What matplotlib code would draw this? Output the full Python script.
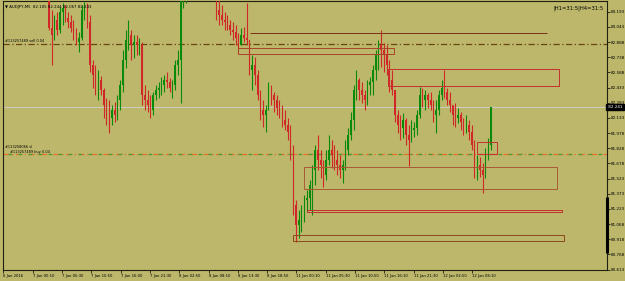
import matplotlib
matplotlib.use('Agg')
import matplotlib.pyplot as plt
from matplotlib.patches import Rectangle

eerste_open = 83.31
hoog = [83.36, 83.21, 83.16, 83.19, 83.24, 83.28, 83.26, 83.19, 83.16, 83.11,
        83.03, 82.99, 83.26, 83.29, 83.28, 83.16, 82.71, 82.66, 82.61, 82.55,
        82.43, 82.33, 82.31, 82.26, 82.29, 82.36, 82.51, 82.81, 83.01, 83.11,
        83.01, 82.96, 82.96, 82.93, 82.89, 82.46, 82.41, 82.36, 82.39, 82.46,
        82.49, 82.54, 82.56, 82.59, 82.53, 82.51, 82.71, 82.81, 83.51, 83.61,
        83.51, 83.61, 83.71, 83.81, 83.86, 83.81, 83.76, 83.71, 83.66, 83.61,
        83.56, 83.46, 83.31, 83.26, 83.19, 83.16, 83.11, 83.09, 83.06, 82.98,
        83.03, 83.04, 83.28, 82.91, 82.76, 82.74, 82.61, 82.41, 82.31, 82.26,
        82.49, 82.46, 82.39, 82.36, 82.31, 82.26, 82.21, 82.13, 82.06, 81.86,
        81.31, 81.21, 81.26, 81.36, 81.41, 81.51, 81.66, 81.86, 81.96, 81.81,
        81.71, 81.81, 81.96, 81.91, 81.86, 81.81, 81.76, 81.71, 81.91, 82.03,
        82.19, 82.46, 82.61, 82.53, 82.49, 82.41, 82.51, 82.54, 82.66, 82.81,
        82.91, 83.01, 82.88, 82.86, 82.71, 82.61, 82.41, 82.21, 82.16, 82.18,
        82.13, 82.06, 82.11, 82.09, 82.21, 82.44, 82.43, 82.41, 82.38, 82.39,
        82.31, 82.31, 82.41, 82.51, 82.61, 82.43, 82.39, 82.26, 82.28, 82.23,
        82.19, 82.13, 82.16, 82.11, 82.06, 81.91, 81.76, 81.74, 81.68, 81.83,
        81.93, 82.24]
laag = [83.01, 82.66, 82.91, 82.96, 82.98, 83.06, 83.09, 83.03, 82.99, 82.91,
        82.86, 82.79, 82.91, 83.11, 83.03, 82.59, 82.43, 82.36, 82.31, 82.36,
        82.13, 82.06, 81.98, 82.06, 82.09, 82.11, 82.21, 82.39, 82.63, 82.81,
        82.71, 82.73, 82.76, 82.76, 82.26, 82.21, 82.19, 82.13, 82.16, 82.31,
        82.33, 82.36, 82.39, 82.43, 82.39, 82.33, 82.41, 82.56, 82.28, 83.23,
        83.28, 83.36, 83.46, 83.56, 83.61, 83.56, 83.51, 83.46, 83.41, 83.36,
        83.33, 83.11, 83.06, 83.06, 83.01, 83.01, 82.96, 82.91, 82.86, 82.78,
        82.86, 82.89, 82.86, 82.56, 82.41, 82.46, 82.31, 82.11, 82.04, 81.99,
        82.21, 82.26, 82.19, 82.16, 82.13, 82.04, 82.01, 81.91, 81.71, 81.16,
        80.89, 80.93, 80.99, 81.09, 81.19, 81.21, 81.16, 81.46, 81.61, 81.53,
        81.44, 81.51, 81.66, 81.63, 81.61, 81.56, 81.53, 81.48, 81.61, 81.76,
        81.91, 82.01, 82.31, 82.31, 82.28, 82.21, 82.26, 82.36, 82.36, 82.51,
        82.61, 82.64, 82.59, 82.56, 82.39, 82.36, 82.09, 81.98, 81.91, 81.93,
        81.86, 81.65, 81.89, 81.94, 81.96, 82.13, 82.24, 82.21, 82.23, 82.21,
        82.09, 81.98, 82.16, 82.31, 82.33, 82.26, 82.19, 82.06, 82.04, 82.08,
        82.01, 81.96, 81.98, 81.91, 81.81, 81.53, 81.51, 81.54, 81.38, 81.53,
        81.71, 81.81]
slot = [83.03, 82.96, 83.11, 83.01, 83.19, 83.23, 83.13, 83.09, 83.03, 82.96,
        82.89, 82.93, 83.21, 83.25, 83.09, 82.66, 82.56, 82.46, 82.51, 82.41,
        82.26, 82.16, 82.13, 82.21, 82.16, 82.31, 82.46, 82.71, 82.91, 82.96,
        82.86, 82.89, 82.86, 82.86, 82.36, 82.31, 82.26, 82.21, 82.36, 82.41,
        82.43, 82.46, 82.51, 82.49, 82.43, 82.46, 82.66, 82.71, 83.36, 83.41,
        83.46, 83.51, 83.66, 83.71, 83.76, 83.66, 83.61, 83.56, 83.51, 83.46,
        83.41, 83.21, 83.16, 83.11, 83.09, 83.06, 83.01, 82.99, 82.93, 82.86,
        82.96, 82.93, 82.91, 82.61, 82.66, 82.56, 82.36, 82.21, 82.16, 82.21,
        82.41, 82.36, 82.31, 82.23, 82.19, 82.11, 82.06, 81.99, 81.81, 81.26,
        81.06, 81.11, 81.19, 81.31, 81.33, 81.46, 81.61, 81.81, 81.71, 81.66,
        81.56, 81.71, 81.81, 81.76, 81.71, 81.66, 81.61, 81.66, 81.81, 81.96,
        82.11, 82.41, 82.51, 82.41, 82.36, 82.31, 82.46, 82.49, 82.61, 82.76,
        82.86, 82.81, 82.76, 82.66, 82.51, 82.41, 82.16, 82.06, 82.03, 82.11,
        81.96, 81.91, 82.01, 82.03, 82.16, 82.36, 82.31, 82.36, 82.31, 82.26,
        82.16, 82.21, 82.36, 82.43, 82.39, 82.31, 82.26, 82.16, 82.13, 82.16,
        82.09, 82.03, 82.06, 81.99, 81.86, 81.66, 81.66, 81.61, 81.56, 81.76,
        81.86, 82.24]

# Tijdas (M5 bars, om de 64 bars een label)
tijd_labels = ['6 Jan 2016', '7 Jan 00:10', '7 Jan 05:30', '7 Jan 10:50', '7 Jan 16:00',
               '7 Jan 21:30', '8 Jan 02:50', '8 Jan 08:10', '8 Jan 13:30', '8 Jan 18:50',
               '11 Jan 00:10', '11 Jan 05:30', '11 Jan 10:50', '11 Jan 16:10',
               '11 Jan 21:30', '12 Jan 02:50', '12 Jan 08:10']
prijs_labels = [83.193, 83.043, 82.888, 82.738, 82.588, 82.433, 82.283, 82.133, 81.978,
                81.828, 81.678, 81.523, 81.373, 81.223, 81.068, 80.918, 80.768, 80.613]

huidige_prijs = 82.241
sell_niveau = 82.87
buy_niveau = 81.77

# Zones: (begin bar, eind bar, laag, hoog, kleur)
zones = [(538, 1187, 82.977, 82.983, '#7a3018'),
         (512, 853, 82.77, 82.83, '#a8442a'),
         (840, 1213, 82.45, 82.62, '#c43030'),
         (1034, 1078, 81.77, 81.89, '#c43030'),
         (656, 1209, 81.42, 81.64, '#a85a35'),
         (663, 1220, 81.19, 81.21, '#c43030'),
         (632, 1224, 80.90, 80.96, '#8b4a20')]

achtergrond = '#BDB76B'
groen = '#0a8a0a'
rood = '#d02828'

fig = plt.figure(figsize=(6.25, 2.81), dpi=100, facecolor=achtergrond)
ax = fig.add_axes([3 / 625, 11 / 281, 604 / 625, 269 / 281])
ax.set_facecolor(achtergrond)

# Candles, elke candle = 6 M5 bars
start_bar = 99
opens = [eerste_open] + slot[:-1]
xs = [start_bar + 6 * i for i in range(len(slot))]
kleuren = [groen if c >= o else rood for o, c in zip(opens, slot)]
ax.vlines(xs, laag, hoog, colors=kleuren, linewidth=0.8, zorder=3)
ax.bar(xs, [c - o for o, c in zip(opens, slot)], bottom=opens, width=3.0,
       color=kleuren, linewidth=0, zorder=3)

# Bid lijn
ax.axhline(huidige_prijs, color='#d0d0d0', linewidth=0.6, zorder=1)

# Order lijnen
ax.axhline(sell_niveau, color='#6b4510', linewidth=0.9, linestyle=(0, (5, 2, 1, 2)), zorder=2)
ax.axhline(buy_niveau, color='#e8702a', linewidth=0.9, linestyle=(0, (5, 2, 1, 2)), zorder=2)
ax.axhline(buy_niveau, color='#4a9a30', linewidth=0.9, linestyle=(4, (3, 5)), zorder=2)

for b0, b1, lo, hi, kl in zones:
    ax.add_patch(Rectangle((b0, lo), b1 - b0, hi - lo, fill=False, edgecolor=kl,
                           linewidth=0.7, zorder=4))

ax.set_xlim(-1, 1318.5)
ax.set_ylim(80.61, 83.30)

ax.set_xticks([64 * i for i in range(len(tijd_labels))])
ax.set_xticklabels(tijd_labels, fontsize=2.7, ha='left')
ax.tick_params(axis='x', direction='out', length=2, width=0.5, pad=1, colors='black')

ax.yaxis.tick_right()
ax.set_yticks(prijs_labels)
ax.set_yticklabels(['%.3f' % p for p in prijs_labels], fontsize=3.0)
ax.tick_params(axis='y', direction='out', length=2, width=0.5, pad=1, colors='black')

for s in ax.spines.values():
    s.set_color('#202010')
    s.set_linewidth(0.8)

# Zwarte balk op de prijsas
ax.plot([1318.5, 1318.5], [80.78, 81.34], color='black', linewidth=2.2,
        clip_on=False, zorder=6, solid_capstyle='butt')

# Huidige prijs label
ax.text(1.0, huidige_prijs, ' %.3f ' % huidige_prijs, transform=ax.get_yaxis_transform(),
        fontsize=3.0, color='white', va='center', ha='left',
        bbox=dict(boxstyle='square,pad=0.15', facecolor='black', edgecolor='black'),
        clip_on=False, zorder=7)

# Teksten
ax.text(0.003, 0.985, '\u25bc AUDJPY,M5  82.105 82.244 82.067 82.243', transform=ax.transAxes,
        fontsize=2.8, va='top', ha='left', color='black')
ax.text(0.912, 0.985, '|H1=31:5|H4=31:5', transform=ax.transAxes,
        fontsize=3.8, va='top', ha='left', color='black')
ax.text(0.004, sell_niveau + 0.01, '#113257489 sell 0.04', fontsize=2.5, va='bottom',
        ha='left', color='black', transform=ax.get_yaxis_transform())
ax.text(0.004, buy_niveau + 0.045, '#113258066 sl', fontsize=2.5, va='bottom',
        ha='left', color='black', transform=ax.get_yaxis_transform())
ax.text(0.012, buy_niveau + 0.005, '#113257489 buy 0.04', fontsize=2.5, va='bottom',
        ha='left', color='black', transform=ax.get_yaxis_transform())

fig.savefig('out.png', dpi=100, facecolor=achtergrond)
